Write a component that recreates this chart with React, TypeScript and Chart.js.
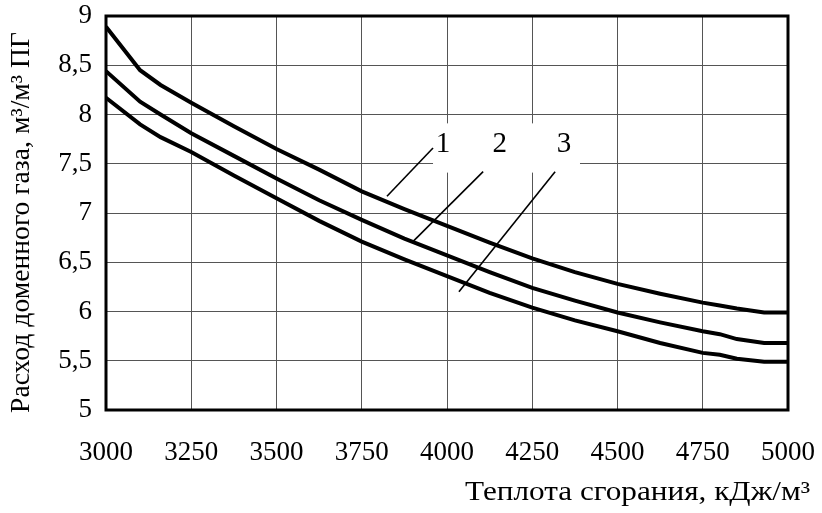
import React, { useEffect, useRef } from "react";
import { Chart, registerables } from "chart.js";

Chart.register(...registerables);

// ---- data ----
const heatValues = [3000, 3100, 3160, 3250, 3375, 3500, 3625, 3750, 3875, 4000, 4125, 4250, 4375, 4500, 4625, 4750, 4800, 4850, 4930, 5000];
const curve1 = [8.89, 8.45, 8.3, 8.12, 7.88, 7.65, 7.44, 7.22, 7.04, 6.87, 6.7, 6.54, 6.4, 6.28, 6.18, 6.09, 6.06, 6.03, 5.99, 5.99];
const curve2 = [8.44, 8.13, 8.0, 7.81, 7.58, 7.35, 7.13, 6.93, 6.74, 6.57, 6.4, 6.24, 6.11, 5.99, 5.89, 5.8, 5.77, 5.72, 5.68, 5.68];
const curve3 = [8.17, 7.9, 7.77, 7.62, 7.38, 7.15, 6.92, 6.71, 6.53, 6.36, 6.19, 6.04, 5.91, 5.8, 5.68, 5.58, 5.56, 5.52, 5.49, 5.49];

const curveNames = ["1", "2", "3"];
// label positions (data coords)
const labelX = [3988, 4155, 4343];
const labelY = [7.7, 7.7, 7.7];
// leader lines: start (near label) and end (on curve)
const leaderFromX = [3959, 4106, 4317];
const leaderFromY = [7.66, 7.42, 7.42];
const leaderToX = [3824, 3900, 4035];
const leaderToY = [7.17, 6.71, 6.2];
// white box behind labels (data coords)
const boxX = [3959, 4390];
const boxY = [7.91, 7.41];

const xMin = 3000;
const xMax = 5000;
const xStep = 250;
const yMin = 5;
const yMax = 9;
const yStep = 0.5;

const xTitle = "Теплота сгорания, кДж/м³";
const yTitle = "Расход доменного газа, м³/м³ ПГ";

const FONT = "'Liberation Serif', 'Times New Roman', serif";

const overlayPlugin = {
  id: "overlay",
  beforeDatasetsDraw(chart: any) {
    const { ctx, scales } = chart;
    const x = scales.x;
    const y = scales.y;
    ctx.save();
    ctx.fillStyle = "#ffffff";
    const x0 = x.getPixelForValue(boxX[0]);
    const x1 = x.getPixelForValue(boxX[1]);
    const y0 = y.getPixelForValue(boxY[0]);
    const y1 = y.getPixelForValue(boxY[1]);
    ctx.fillRect(x0, y0, x1 - x0, y1 - y0);
    ctx.restore();
  },
  afterDatasetsDraw(chart: any) {
    const { ctx, scales, chartArea } = chart;
    const x = scales.x;
    const y = scales.y;
    ctx.save();
    // leader lines
    ctx.strokeStyle = "#000";
    ctx.lineWidth = 1.6;
    for (let i = 0; i < curveNames.length; i++) {
      ctx.beginPath();
      ctx.moveTo(x.getPixelForValue(leaderFromX[i]), y.getPixelForValue(leaderFromY[i]));
      ctx.lineTo(x.getPixelForValue(leaderToX[i]), y.getPixelForValue(leaderToY[i]));
      ctx.stroke();
    }
    // labels
    ctx.fillStyle = "#000";
    ctx.font = `29px ${FONT}`;
    ctx.textAlign = "center";
    ctx.textBaseline = "middle";
    for (let i = 0; i < curveNames.length; i++) {
      ctx.fillText(curveNames[i], x.getPixelForValue(labelX[i]), y.getPixelForValue(labelY[i]));
    }
    // frame
    ctx.lineWidth = 3;
    ctx.strokeRect(chartArea.left, chartArea.top, chartArea.right - chartArea.left, chartArea.bottom - chartArea.top);
    // x axis title, right-aligned, fitted to the reference width
    ctx.font = `27px ${FONT}`;
    ctx.textBaseline = "alphabetic";
    ctx.textAlign = "left";
    {
      const w = ctx.measureText(xTitle).width;
      const target = 345;
      const sx = target / w;
      ctx.save();
      ctx.translate(810 - target, 500);
      ctx.scale(sx, 1);
      ctx.fillText(xTitle, 0, 0);
      ctx.restore();
    }
    // y axis title, rotated
    {
      const w = ctx.measureText(yTitle).width;
      const target = 381;
      const sx = target / w;
      ctx.save();
      ctx.translate(29, 413);
      ctx.rotate(-Math.PI / 2);
      ctx.scale(sx, 1);
      ctx.fillText(yTitle, 0, 0);
      ctx.restore();
    }
    ctx.restore();
  },
};

export default function App() {
  const ref = useRef<HTMLCanvasElement | null>(null);
  useEffect(() => {
    if (!ref.current) return;
    const mk = (vals: number[]) => heatValues.map((v, i) => ({ x: v, y: vals[i] }));
    const ds = (label: string, vals: number[]) => ({
      label,
      data: mk(vals),
      borderColor: "#000",
      borderWidth: 4,
      pointRadius: 0,
      tension: 0,
      fill: false,
    });
    const chart = new Chart(ref.current, {
      type: "line",
      data: {
        datasets: [ds(curveNames[0], curve1), ds(curveNames[1], curve2), ds(curveNames[2], curve3)],
      },
      options: {
        animation: false,
        responsive: false,
        maintainAspectRatio: false,
        layout: { padding: { left: 0, right: 34, top: 16, bottom: 0 } },
        plugins: { legend: { display: false }, tooltip: { enabled: false } },
        scales: {
          x: {
            type: "linear",
            min: xMin,
            max: xMax,
            ticks: {
              stepSize: xStep,
              color: "#000",
              font: { family: FONT, size: 27 },
              padding: 27,
              maxRotation: 0,
              autoSkip: false,
              callback: (v: any) => String(v),
            },
            grid: { color: "#555", lineWidth: 1, drawTicks: false },
            border: { display: false },
            afterFit: (s: any) => {
              s.height = 103;
              s.paddingLeft = 0;
              s.paddingRight = 0;
            },
          },
          y: {
            type: "linear",
            min: yMin,
            max: yMax,
            ticks: {
              stepSize: yStep,
              color: "#000",
              font: { family: FONT, size: 27 },
              padding: 14,
              callback: (v: any) => String(v).replace(".", ","),
            },
            grid: { color: "#555", lineWidth: 1, drawTicks: false },
            border: { display: false },
            afterFit: (s: any) => {
              s.width = 106;
              s.paddingTop = 0;
              s.paddingBottom = 0;
            },
          },
        },
      },
      plugins: [overlayPlugin],
    });
    return () => chart.destroy();
  }, []);
  return (
    <div style={{ position: "absolute", left: 0, top: 0, width: 822, height: 513 }}>
      <canvas ref={ref} width={822} height={513} style={{ display: "block" }} />
    </div>
  );
}
